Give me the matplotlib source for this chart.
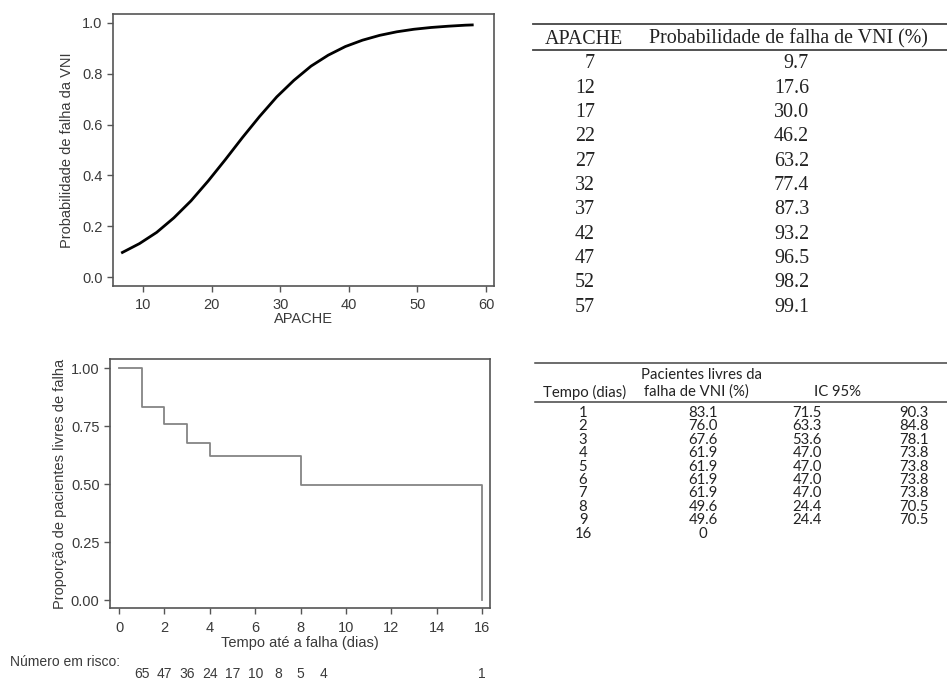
import matplotlib
matplotlib.use("Agg")
import matplotlib.pyplot as plt
from matplotlib.lines import Line2D
import matplotlib.transforms as mtransforms

# top-right table (logistic model)
apache = [7, 12, 17, 22, 27, 32, 37, 42, 47, 52, 57]
prob_fail = [9.7, 17.6, 30.0, 46.2, 63.2, 77.4, 87.3, 93.2, 96.5, 98.2, 99.1]

# curve readings from the left plot (APACHE, probability)
curve_x = [7, 9.5, 12, 14.5, 17, 19.5, 22, 24.5, 27, 29.5, 32, 34.5, 37,
           39.5, 42, 44.5, 47, 49.5, 52, 54.5, 57, 58]
curve_y = [0.097, 0.132, 0.176, 0.233, 0.300, 0.378, 0.462, 0.549, 0.632,
           0.709, 0.774, 0.830, 0.873, 0.907, 0.932, 0.951, 0.965, 0.975,
           0.982, 0.987, 0.991, 0.992]

# bottom-right table (Kaplan-Meier)
km_days = [1, 2, 3, 4, 5, 6, 7, 8, 9, 16]
km_free = ["83.1", "76.0", "67.6", "61.9", "61.9", "61.9", "61.9", "49.6", "49.6", "0"]
km_low = ["71.5", "63.3", "53.6", "47.0", "47.0", "47.0", "47.0", "24.4", "24.4", ""]
km_high = ["90.3", "84.8", "78.1", "73.8", "73.8", "73.8", "73.8", "70.5", "70.5", ""]

# number at risk
risk_days = [1, 2, 3, 4, 5, 6, 7, 8, 9, 16]
risk_n = [65, 47, 36, 24, 17, 10, 8, 5, 4, 1]

W, H = 947, 683
fig = plt.figure(figsize=(W / 100, H / 100), dpi=100)


def fx(px):
    return px / W


def fy(py):
    return 1 - py / H


sans = "Liberation Sans"
axcol = "#555555"
txtcol = "#3a3a3a"
fs = 10.5


def style(ax):
    for s in ax.spines.values():
        s.set_color(axcol)
        s.set_linewidth(1.2)
    ax.tick_params(direction="out", length=4, width=1, color=axcol,
                   labelcolor=txtcol, labelsize=fs)
    ax.tick_params(axis="x", pad=5)
    for lab in ax.get_xticklabels() + ax.get_yticklabels():
        lab.set_family(sans)


# top-left plot
ax1 = fig.add_axes([fx(113), fy(286), fx(494) - fx(113), fy(14) - fy(286)])
ax1.plot(curve_x, curve_y, color="black", lw=2)
ax1.set_xlim(5.63, 61.17)
ax1.set_ylim(-0.035, 1.035)
ax1.set_xticks([10, 20, 30, 40, 50, 60])
ax1.set_yticks([0.0, 0.2, 0.4, 0.6, 0.8, 1.0])
ax1.set_yticklabels(["0.0", "0.2", "0.4", "0.6", "0.8", "1.0"])
ax1.set_xlabel("APACHE", family=sans, fontsize=fs, color=txtcol, labelpad=0)
ax1.set_ylabel("Probabilidade de falha da VNI", family=sans, fontsize=fs,
               color=txtcol, labelpad=6)
style(ax1)

# bottom-left plot
ax2 = fig.add_axes([fx(110), fy(608), fx(490) - fx(110), fy(359) - fy(608)])
ax2.plot([0] + km_days, [1.0] + [float(v) / 100 for v in km_free],
         drawstyle="steps-post", color="#858585", lw=1.3)
ax2.set_xlim(-0.4, 16.35)
ax2.set_ylim(-0.034, 1.039)
ax2.set_xticks(range(0, 17, 2))
ax2.set_yticks([0, 0.25, 0.5, 0.75, 1.0])
ax2.set_yticklabels(["0.00", "0.25", "0.50", "0.75", "1.00"])
ax2.set_xlabel("Tempo até a falha (dias)", family=sans, fontsize=fs,
               color=txtcol, labelpad=1)
ax2.set_ylabel("Proporção de pacientes livres de falha", family=sans,
               fontsize=fs, color=txtcol, labelpad=3)
style(ax2)

fig.text(fx(10), fy(662), "Número em risco:", family=sans, fontsize=10,
         color=txtcol, va="center", ha="left")
trans = mtransforms.blended_transform_factory(ax2.transData, fig.transFigure)
for d, n in zip(risk_days, risk_n):
    fig.text(d, fy(674), str(n), transform=trans, family=sans, fontsize=10,
             color=txtcol, va="center", ha="center")

# top-right table
serif = "Liberation Serif"
tfs = 14.4
fig.add_artist(Line2D([fx(533), 1], [fy(24), fy(24)], color="#444444", lw=1.3))
fig.add_artist(Line2D([fx(533), 1], [fy(50), fy(50)], color="#444444", lw=1.3))
fig.text(fx(584), fy(39), "APACHE", family=serif, fontsize=tfs, color="#222222",
         ha="center", va="center")
fig.text(fx(788), fy(39), "Probabilidade de falha de VNI (%)", family=serif,
         fontsize=tfs, color="#222222", ha="center", va="center")
for i, (a, p) in enumerate(zip(apache, prob_fail)):
    y = 64 + i * 24.3
    fig.text(fx(595), fy(y), str(a), family=serif, fontsize=tfs,
             color="#222222", ha="right", va="center")
    fig.text(fx(809), fy(y), f"{p:.1f}", family=serif, fontsize=tfs,
             color="#222222", ha="right", va="center")

# bottom-right table
cal = "Lato"
cfs = 10.7
fig.add_artist(Line2D([fx(535), 1], [fy(363), fy(363)], color="#444444", lw=1.1))
fig.add_artist(Line2D([fx(535), 1], [fy(402), fy(402)], color="#444444", lw=1.1))
fig.text(fx(701), fy(375), "Pacientes livres da", family=cal, fontsize=cfs,
         color="#222222", ha="center", va="center")
fig.text(fx(585), fy(392), "Tempo (dias)", family=cal, fontsize=cfs,
         color="#222222", ha="center", va="center")
fig.text(fx(696), fy(392), "falha de VNI (%)", family=cal, fontsize=cfs,
         color="#222222", ha="center", va="center")
fig.text(fx(837), fy(392), "IC 95%", family=cal, fontsize=cfs,
         color="#222222", ha="center", va="center")
for i in range(len(km_days)):
    y = 413 + i * 13.4
    for x, s in [(583, str(km_days[i])), (703, km_free[i]),
                 (807, km_low[i]), (914, km_high[i])]:
        fig.text(fx(x), fy(y), s, family=cal, fontsize=cfs, color="#222222",
                 ha="center", va="center")

fig.savefig("out.png", dpi=100)
